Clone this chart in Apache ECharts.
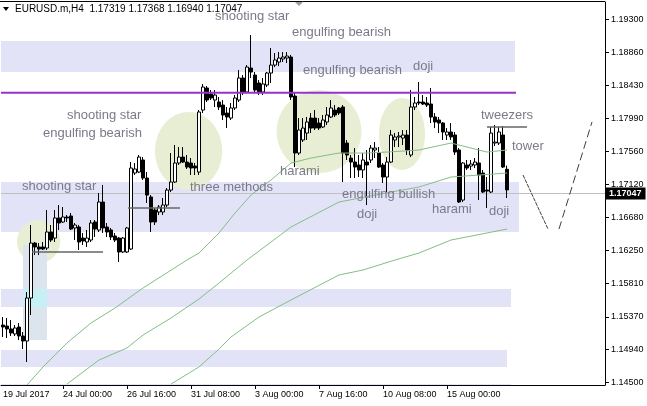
<!DOCTYPE html>
<html><head><meta charset="utf-8">
<script src="https://cdn.jsdelivr.net/npm/echarts@6/dist/echarts.min.js"></script>
<style>html,body{margin:0;padding:0;background:#fff}#c{width:647px;height:406px}</style>
</head><body><div id="c"></div>
<script>
// ---------- DATA ----------
const opens = [1.15262,1.15249,1.15210,1.15144,1.15236,1.15117,1.15051,1.15619,1.16345,1.16293,
1.16293,1.16279,1.16491,1.16411,1.16676,1.16623,1.16689,1.16702,1.16544,1.16557,
1.16411,1.16359,1.16385,1.16623,1.16517,1.16887,1.16557,1.16517,1.16438,1.16411,
1.16227,1.16227,1.16266,1.17270,1.17283,1.17442,1.17204,1.16953,1.16781,1.16755,
1.16755,1.16847,1.17045,1.17151,1.17402,1.17481,1.17415,1.17402,1.17362,1.17283,
1.18102,1.18393,1.18313,1.18234,1.18208,1.18168,1.18062,1.17996,1.18129,1.18234,
1.18525,1.18340,1.18657,1.18564,1.18459,1.18340,1.18432,1.18591,1.18696,1.18736,
1.18776,1.18789,1.18802,1.18287,1.17534,1.17706,1.17798,1.17996,1.17996,1.17930,
1.17878,1.17944,1.18010,1.18102,1.18129,1.18142,1.17666,1.17468,1.17415,1.17376,
1.17310,1.17415,1.17442,1.17574,1.17534,1.17376,1.17217,1.17415,1.17706,1.17746,
1.17732,1.17772,1.17508,1.18142,1.18208,1.18208,1.18195,1.18181,1.18010,1.17970,
1.17930,1.17772,1.17812,1.17772,1.17574,1.16913,1.17376,1.17362,1.17376,1.17402,
1.17270,1.17045,1.17019,1.17666,1.17666,1.17772,1.17319];
const closes = [1.15236,1.15210,1.15157,1.15223,1.15117,1.15051,1.15619,1.16345,1.16293,1.16266,
1.16266,1.16491,1.16385,1.16676,1.16610,1.16689,1.16676,1.16530,1.16583,1.16359,
1.16372,1.16411,1.16610,1.16530,1.16887,1.16544,1.16491,1.16425,1.16385,1.16227,
1.16411,1.16544,1.17336,1.17323,1.17481,1.17204,1.16979,1.16623,1.16623,1.16821,
1.16847,1.17045,1.17151,1.17402,1.17481,1.17415,1.17349,1.17336,1.17336,1.18076,
1.18406,1.18234,1.18261,1.18300,1.18142,1.18036,1.18010,1.18129,1.18261,1.18525,
1.18340,1.18670,1.18604,1.18366,1.18340,1.18446,1.18591,1.18696,1.18763,1.18789,
1.18802,1.18815,1.18274,1.17534,1.17838,1.17864,1.17944,1.17864,1.17864,1.17864,
1.17970,1.18036,1.18129,1.18036,1.18062,1.17534,1.17508,1.17415,1.17349,1.17310,
1.17442,1.17376,1.17600,1.17600,1.17349,1.17217,1.17415,1.17772,1.17746,1.17759,
1.17772,1.17574,1.18142,1.18195,1.18195,1.18181,1.18168,1.18010,1.17944,1.17930,
1.17812,1.17812,1.17746,1.17547,1.16887,1.17402,1.17336,1.17389,1.17415,1.17244,
1.17019,1.17032,1.17798,1.17679,1.17812,1.17349,1.17047];
const lows = [1.15104,1.15091,1.15117,1.15117,1.15064,1.14945,1.14774,1.15394,1.16187,1.16187,
1.16253,1.16253,1.16359,1.16359,1.16517,1.16610,1.16623,1.16517,1.16385,1.16253,
1.16319,1.16293,1.16359,1.16425,1.16491,1.16478,1.16425,1.16385,1.16359,1.16095,
1.16213,1.16213,1.16253,1.17244,1.17270,1.17178,1.16874,1.16491,1.16583,1.16715,
1.16715,1.16821,1.17019,1.17138,1.17376,1.17402,1.17323,1.17244,1.17244,1.17244,
1.18062,1.18208,1.18234,1.18142,1.18102,1.17970,1.17864,1.17970,1.18102,1.18208,
1.18300,1.18327,1.18525,1.18340,1.18300,1.18300,1.18406,1.18459,1.18670,1.18683,
1.18736,1.18723,1.18234,1.17349,1.17508,1.17679,1.17706,1.17798,1.17838,1.17838,
1.17864,1.17904,1.17996,1.18010,1.18036,1.17151,1.17442,1.17204,1.17204,1.17217,
1.17204,1.16847,1.17402,1.17468,1.17336,1.17138,1.17019,1.17402,1.17613,1.17613,
1.17640,1.17508,1.17481,1.18102,1.18168,1.18168,1.18142,1.17930,1.17864,1.17798,
1.17706,1.17706,1.17706,1.17508,1.16874,1.16887,1.17310,1.17310,1.17336,1.16913,
1.17006,1.16808,1.17006,1.17627,1.17640,1.17336,1.16940];
const highs = [1.15368,1.15355,1.15328,1.15262,1.15289,1.15170,1.15698,1.16583,1.16359,1.16345,
1.16359,1.16781,1.16583,1.16781,1.16847,1.16821,1.16715,1.16742,1.16610,1.16583,
1.16478,1.16517,1.16649,1.16649,1.17006,1.17112,1.16610,1.16544,1.16478,1.16425,
1.16425,1.16557,1.17415,1.17402,1.17508,1.17481,1.17283,1.16979,1.16808,1.16847,
1.16940,1.17072,1.17534,1.17640,1.17613,1.17613,1.17508,1.17468,1.17402,1.18102,
1.18446,1.18419,1.18366,1.18366,1.18274,1.18234,1.18142,1.18195,1.18300,1.18630,
1.18564,1.18696,1.19093,1.18604,1.18498,1.18525,1.18604,1.18921,1.18855,1.18868,
1.18868,1.18868,1.18829,1.18340,1.17996,1.17996,1.18010,1.18062,1.18102,1.17996,
1.18036,1.18142,1.18234,1.18168,1.18142,1.18168,1.17706,1.17508,1.17600,1.17508,
1.17534,1.17574,1.17640,1.17679,1.17613,1.17402,1.17481,1.17838,1.17798,1.17812,
1.17838,1.17838,1.18366,1.18274,1.18472,1.18300,1.18274,1.18393,1.18062,1.18010,
1.17944,1.17864,1.17930,1.17812,1.17600,1.17415,1.17442,1.17442,1.17468,1.17600,
1.17310,1.17217,1.17878,1.17904,1.17878,1.17891,1.17368];

// moving averages (at selected bars)
const maFastIdx = [6,10,16,22,28,35,46,49,54,58,62,67,72,77,84,91,96,104,112,121,126];
const maFastVal = [1.14470,1.14708,1.15025,1.15289,1.15487,1.15751,1.16121,1.16213,1.16478,1.16742,1.16979,1.17178,1.17402,1.17468,1.17534,1.17534,1.17547,1.17574,1.17666,1.17547,1.17574];
const maMidIdx = [16,24,31,35,42,49,54,61,72,84,97,104,112,126];
const maMidVal = [1.14483,1.14800,1.14959,1.15130,1.15355,1.15606,1.15817,1.16121,1.16557,1.16887,1.17019,1.17085,1.17217,1.17270];
const maSlowIdx = [42,49,54,57,64,72,84,90,98,104,112,126];
const maSlowVal = [1.14483,1.14708,1.14945,1.15104,1.15368,1.15593,1.15923,1.15989,1.16121,1.16213,1.16385,1.16530];

// zones (horizontal supply/demand rectangles)
const zoneTop = [1.19013,1.17151,1.15738,1.14932,1.14483];
const zoneBottom = [1.18604,1.16491,1.15500,1.14708,1.14380];
const zoneEnd = [128,129,127,126,127];
// vertical box
const boxStart = [5], boxEnd = [11], boxTop = [1.16319], boxBottom = [1.15064];
// ellipses
const ellIdx = [8.9,46.4,79.0,99.75];
const ellPrice = [1.16365,1.17561,1.17818,1.17785];
const ellRxBars = [5.4,8.4,10.6,5.75];
const ellRyPrice = [0.00284,0.00515,0.00548,0.00475];
// horizontal trend segments
const segStart = [7.25,31.25,121];
const segEnd = [25,44.25,131];
const segPrice = [1.16227,1.16808,1.17878];
// resistance line
const levelPrice = 1.1833, levelEnd = 128.25;
// projected zigzag
const zigA = [[130,1.17244],[136.25,1.16530]];
const zigB = [[139,1.16530],[147.25,1.17944]];

const yTicks = [1.145,1.1494,1.1537,1.1581,1.1625,1.1668,1.1712,1.1756,1.1799,1.1843,1.1886,1.193];
const xTickLabels = ['24 Jul 00:00','26 Jul 16:00','31 Jul 08:00','3 Aug 00:00','7 Aug 16:00','10 Aug 08:00','15 Aug 00:00'];
const firstLabel = '19 Jul 2017';
const headerText = 'EURUSD.m,H4  1.17319 1.17368 1.16940 1.17047';

const annTexts = ['shooting star','engulfing bearish','engulfing bearish','doji','shooting star','engulfing bearish','shooting star','three methods','harami','engulfing bullish','doji','harami','doji','tweezers','tower'];

// categories: H4 bars, weekends skipped
const MONTHS = ['Jan','Feb','Mar','Apr','May','Jun','Jul','Aug','Sep','Oct','Nov','Dec'];
const categories = [];
(function(){
  let t = Date.UTC(2017,6,19,12);
  while (categories.length < 151) {
    const d = new Date(t); const wd = d.getUTCDay();
    if (wd !== 0 && wd !== 6) {
      const h = d.getUTCHours();
      categories.push(d.getUTCDate()+' '+MONTHS[d.getUTCMonth()]+' '+(h<10?'0':'')+h+':00');
    }
    t += 4*3600*1000;
  }
})();

// ---------- CHART ----------
const chart = echarts.init(document.getElementById('c'), null, {renderer:'canvas'});
const F = '"Liberation Sans", Arial, sans-serif';
const candles = opens.map((o,i)=>[o, closes[i], lows[i], highs[i]]);
const lastClose = closes[closes.length-1];

function xAt(api, idx) {
  const a = api.coord([0, yTicks[0]])[0];
  const w = api.size([1, 0])[0];
  return a + idx * w;
}
function yAt(api, p) { return api.coord([0, p])[1]; }

const annPos = [[215,18],[292,34],[303,72],[413,68],[67,117],[43,135],[22,188],[190,189],[280,173],[342,196],[357,216],[432,211],[489,213],[481,117],[512,148]];

const graphics = annTexts.map((t,i)=>({type:'text', left:annPos[i][0], top:annPos[i][1]-8, z:50,
  style:{text:t, fill:'#7a7a8a', font:'13px '+F}}));
graphics.push({type:'text', left:15, top:4, z:50, style:{text:headerText, fill:'#000', font:'10px '+F}});
graphics.push({type:'polygon', z:50, shape:{points:[[3,7],[9,7],[6,11]]}, style:{fill:'#000'}});
graphics.push({type:'polygon', z:50, shape:{points:[[295,2],[303,2],[299,6]]}, style:{fill:'#a0a0a0'}});
graphics.push({type:'line', z:50, shape:{x1:0,y1:1.5,x2:605,y2:1.5}, style:{stroke:'#000', lineWidth:1}});

const option = {
  animation:false,
  backgroundColor:'#fff',
  grid:{left:1, right:42, top:2, bottom:21, containLabel:false},
  xAxis:{type:'category', data:categories, boundaryGap:true,
    axisLine:{show:true, lineStyle:{color:'#000', width:1}},
    axisTick:{show:true, alignWithLabel:true, length:4, lineStyle:{color:'#000'},
      interval:(i,v)=>xTickLabels.includes(v)},
    axisLabel:{show:true, color:'#000', fontFamily:F, fontSize:9, align:'left', margin:5,
      interval:(i,v)=> i===0 || xTickLabels.includes(v),
      formatter:(v,i)=> i===0 ? firstLabel : v},
    splitLine:{show:false}},
  yAxis:{type:'value', position:'right', min:1.1447, max:1.19529, scale:true,
    axisLine:{show:true, lineStyle:{color:'#000', width:1}},
    axisTick:{show:true, length:4, lineStyle:{color:'#000'}, customValues:yTicks},
    axisLabel:{show:true, color:'#000', fontFamily:F, fontSize:9, margin:6, customValues:yTicks,
      formatter:v=>v.toFixed(5)},
    splitLine:{show:false}},
  graphic:graphics,
  series:[
    {type:'custom', name:'zones', z:1, silent:true, clip:true, data:zoneTop.map((v,i)=>i),
      renderItem:(params, api)=>{
        const i = params.dataIndex;
        const x1 = xAt(api,-3), x2 = xAt(api, zoneEnd[i]);
        const y1 = yAt(api, zoneTop[i]), y2 = yAt(api, zoneBottom[i]);
        return {type:'rect', shape:{x:x1,y:y1,width:x2-x1,height:y2-y1}, style:{fill:'#E3E3F8'}};
      }},
    {type:'custom', name:'ellipses', z:2, silent:true, clip:true, data:ellIdx.map((v,i)=>i),
      renderItem:(params, api)=>{
        const i = params.dataIndex;
        const cx = xAt(api, ellIdx[i]), cy = yAt(api, ellPrice[i]);
        const rx = api.size([1,0])[0]*ellRxBars[i];
        const ry = Math.abs(yAt(api, ellPrice[i]+ellRyPrice[i]) - cy);
        const pts = [];
        for (let k=0;k<72;k++){ const a = k/72*Math.PI*2; pts.push([cx+rx*Math.cos(a), cy+ry*Math.sin(a)]); }
        return {type:'polygon', shape:{points:pts}, style:{fill:'#E8EED3'}};
      }},
    {type:'custom', name:'box', z:3, silent:true, clip:true, data:boxStart.map((v,i)=>i),
      renderItem:(params, api)=>{
        const i = params.dataIndex;
        const x1 = xAt(api, boxStart[i]), x2 = xAt(api, boxEnd[i]);
        const y1 = yAt(api, boxTop[i]), y2 = yAt(api, boxBottom[i]);
        const children = [{type:'rect', shape:{x:x1,y:y1,width:x2-x1,height:y2-y1}, style:{fill:'#DCE4EE'}}];
        for (let z=0; z<zoneTop.length; z++){
          const t = Math.min(boxTop[i], zoneTop[z]), b = Math.max(boxBottom[i], zoneBottom[z]);
          if (t > b) { const ya = yAt(api,t), yb = yAt(api,b);
            children.push({type:'rect', shape:{x:x1,y:ya,width:x2-x1,height:yb-ya}, style:{fill:'#C6F0F4'}}); }
        }
        return {type:'group', children};
      }},
    {type:'candlestick', name:'EURUSD', z:5, data:candles, barWidth:3, silent:true,
      itemStyle:{color:'#FFFFFF', color0:'#000000', borderColor:'#000000', borderColor0:'#000000', borderWidth:1},
      markLine:{silent:true, symbol:'none', animation:false, z:4,
        lineStyle:{color:'#C0C0C0', width:1, type:'solid'},
        label:{show:true, position:'end', distance:0, formatter:()=>lastClose.toFixed(5),
          backgroundColor:'#000', color:'#fff', fontFamily:F, fontSize:9, fontWeight:'bold', padding:[2,4,1,4]},
        data:[{yAxis:lastClose}]}},
    {type:'line', name:'MA fast', z:6, symbol:'none', silent:true, data:maFastIdx.map((x,i)=>[x, maFastVal[i]]),
      lineStyle:{color:'#86BC86', width:1}},
    {type:'line', name:'MA mid', z:6, symbol:'none', silent:true, data:maMidIdx.map((x,i)=>[x, maMidVal[i]]),
      lineStyle:{color:'#86BC86', width:1}},
    {type:'line', name:'MA slow', z:6, symbol:'none', silent:true, data:maSlowIdx.map((x,i)=>[x, maSlowVal[i]]),
      lineStyle:{color:'#86BC86', width:1}},
    {type:'custom', name:'lines', z:7, silent:true, clip:true, data:[0],
      renderItem:(params, api)=>{
        const ch = [];
        const lx1 = xAt(api,-3), lx2 = xAt(api, levelEnd), ly = yAt(api, levelPrice);
        ch.push({type:'line', shape:{x1:lx1,y1:ly,x2:lx2,y2:ly}, style:{stroke:'#9932CC', lineWidth:2}});
        for (let s=0;s<segStart.length;s++){
          const y = yAt(api, segPrice[s]);
          ch.push({type:'line', shape:{x1:xAt(api,segStart[s]),y1:y,x2:xAt(api,segEnd[s]),y2:y}, style:{stroke:'#666666', lineWidth:1.5}});
        }
        ch.push({type:'line', shape:{x1:xAt(api,zigA[0][0]),y1:yAt(api,zigA[0][1]),x2:xAt(api,zigA[1][0]),y2:yAt(api,zigA[1][1])},
          style:{stroke:'#404040', lineWidth:1, lineDash:[4,1]}});
        ch.push({type:'line', shape:{x1:xAt(api,zigB[0][0]),y1:yAt(api,zigB[0][1]),x2:xAt(api,zigB[1][0]),y2:yAt(api,zigB[1][1])},
          style:{stroke:'#404040', lineWidth:1, lineDash:[8,4]}});
        return {type:'group', children:ch};
      }}
  ]
};
chart.setOption(option);
</script></body></html>
